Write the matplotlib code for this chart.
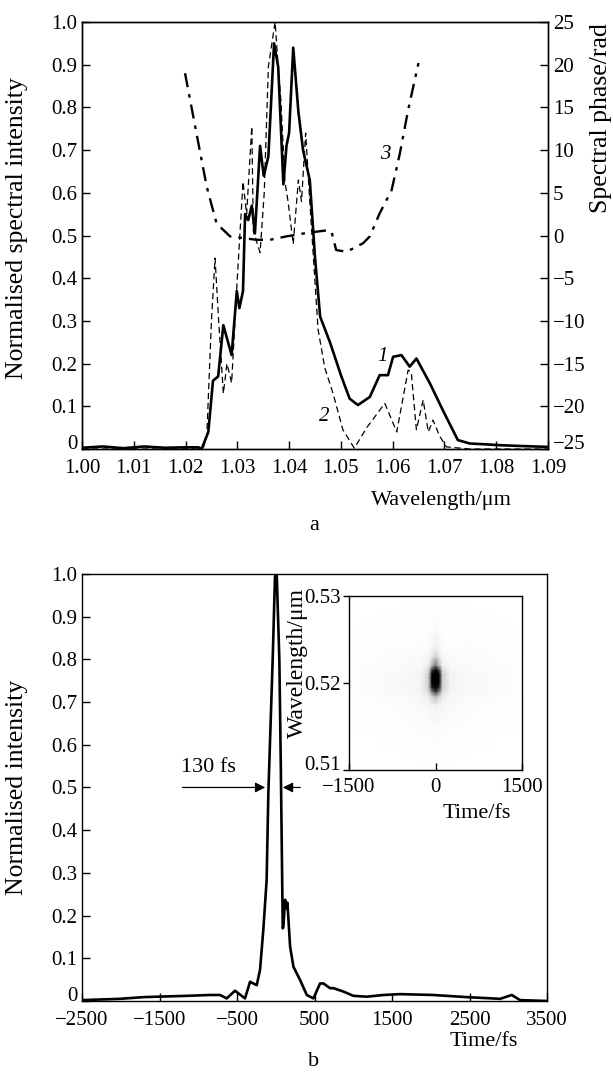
import numpy as np
import matplotlib
matplotlib.use("Agg")
import matplotlib.pyplot as plt

plt.rcParams["font.family"] = ["Liberation Serif", "DejaVu Serif"]
plt.rcParams["font.size"] = 15

# ---- panel a: spectra ----
lam1 = [1.000, 1.004, 1.008, 1.012, 1.016, 1.020, 1.0225, 1.0231, 1.0244, 1.0253, 1.0263,
        1.0273, 1.0289, 1.0299, 1.0304, 1.0311, 1.0315, 1.0321, 1.0328, 1.0334, 1.0344,
        1.0351, 1.036, 1.0371, 1.0379, 1.0389, 1.0395, 1.040, 1.0408, 1.0418, 1.0427,
        1.044, 1.045, 1.046, 1.0479, 1.0501, 1.0517, 1.0533, 1.0556, 1.0575, 1.0591,
        1.0601, 1.0617, 1.0633, 1.0646, 1.0672, 1.0697, 1.0726, 1.0749, 1.0780, 1.0807,
        1.0850, 1.090]
int1 = [0.003, 0.006, 0.002, 0.006, 0.003, 0.004, 0.004, 0.00, 0.04, 0.16, 0.17,
        0.29, 0.22, 0.37, 0.33, 0.37, 0.55, 0.536, 0.57, 0.505, 0.71,
        0.64, 0.685, 0.95, 0.895, 0.62, 0.71, 0.74, 0.94, 0.79, 0.70,
        0.63, 0.45, 0.31, 0.25, 0.17, 0.118, 0.103, 0.122, 0.173, 0.173,
        0.216, 0.22, 0.193, 0.212, 0.154, 0.091, 0.021, 0.013, 0.011, 0.009,
        0.007, 0.005]

lam2 = [1.000, 1.010, 1.020, 1.0235, 1.0241, 1.0250, 1.0257, 1.0264, 1.0273, 1.0280,
        1.0289, 1.0300, 1.0311, 1.0318, 1.0328, 1.0331, 1.0344, 1.0352, 1.0360, 1.0373,
        1.0379, 1.0384, 1.0392, 1.0398, 1.0408, 1.0418, 1.0424, 1.0432, 1.0440, 1.0456,
        1.0469, 1.0485, 1.0504, 1.0526, 1.0550, 1.0585, 1.0608, 1.0630, 1.0636, 1.0646,
        1.0659, 1.0669, 1.0678, 1.0691, 1.0704, 1.0750, 1.090]
int2 = [0.0, 0.0, 0.0, 0.005, 0.03, 0.30, 0.447, 0.30, 0.13, 0.20,
        0.155, 0.40, 0.626, 0.55, 0.755, 0.51, 0.46, 0.60, 0.895, 1.0,
        0.895, 0.82, 0.626, 0.58, 0.48, 0.63, 0.58, 0.74, 0.58, 0.28,
        0.19, 0.13, 0.045, 0.002, 0.05, 0.107, 0.04, 0.185, 0.18, 0.045,
        0.115, 0.04, 0.068, 0.03, 0.005, 0.0, 0.0]

lam3 = [1.0199, 1.0221, 1.0241, 1.0260, 1.0286, 1.0311, 1.0337, 1.0363, 1.0395, 1.0434,
        1.0472, 1.0482, 1.0491, 1.0511, 1.0524, 1.0543, 1.0556, 1.0575, 1.0598, 1.0614,
        1.0630, 1.0650]
phase3 = [19.0, 12.0, 5.7, 1.4, -0.1, -0.3, -0.5, -0.5, -0.1, 0.3,
          0.6, 0.45, -1.7, -1.9, -1.5, -0.9, -0.1, 2.6, 5.3, 9.6,
          14.7, 20.2]

# ---- panel b: temporal profile ----
t_fs = [-2500, -2010, -1709, -1149, -848, -719, -633, -526, -397, -332, -246, -203,
        -161, -118, -96, -40, -10, 12, 46, 64, 90, 98, 120, 142, 150, 185, 228, 314,
        400, 486, 571, 615, 700, 744, 873, 1002, 1174, 1389, 1603, 2033, 2463, 2894,
        3045, 3152, 3500]
i_t = [0.002, 0.005, 0.009, 0.012, 0.014, 0.014, 0.006, 0.024, 0.006, 0.045, 0.037, 0.073,
       0.166, 0.283, 0.486, 0.80, 0.994, 1.0, 0.80, 0.564, 0.17, 0.174, 0.237, 0.217, 0.23,
       0.127, 0.08, 0.049, 0.014, 0.006, 0.041, 0.041, 0.03, 0.03, 0.022, 0.012, 0.01, 0.014,
       0.016, 0.014, 0.009, 0.005, 0.014, 0.002, 0.0]

# inset: FROG-like trace, darkness on a coarse grid
ins_t = [-1500, -600, -250, -120, -60, 0, 60, 120, 250, 600, 1500]
ins_lam = [0.510, 0.515, 0.5175, 0.5185, 0.519, 0.5195, 0.520, 0.5205, 0.521, 0.5215,
           0.522, 0.523, 0.524, 0.526, 0.530]
ins_val = [
    [0, 0, 0, 0, 0, 0, 0, 0, 0, 0, 0],
    [0, 0.01, 0.02, 0.02, 0.03, 0.03, 0.03, 0.02, 0.02, 0.01, 0],
    [0, 0.02, 0.04, 0.06, 0.08, 0.10, 0.08, 0.06, 0.04, 0.02, 0],
    [0, 0.03, 0.06, 0.12, 0.25, 0.35, 0.25, 0.12, 0.06, 0.03, 0],
    [0.01, 0.04, 0.08, 0.20, 0.50, 0.70, 0.50, 0.20, 0.08, 0.04, 0.01],
    [0.01, 0.04, 0.08, 0.25, 0.75, 0.95, 0.75, 0.25, 0.08, 0.04, 0.01],
    [0.01, 0.04, 0.08, 0.25, 0.85, 1.00, 0.85, 0.25, 0.08, 0.04, 0.01],
    [0.01, 0.04, 0.08, 0.25, 0.85, 1.00, 0.85, 0.25, 0.08, 0.04, 0.01],
    [0.01, 0.04, 0.08, 0.25, 0.85, 1.00, 0.85, 0.25, 0.08, 0.04, 0.01],
    [0.01, 0.03, 0.06, 0.20, 0.70, 0.95, 0.70, 0.20, 0.06, 0.03, 0.01],
    [0.01, 0.03, 0.05, 0.12, 0.35, 0.55, 0.35, 0.12, 0.05, 0.03, 0.01],
    [0, 0.02, 0.03, 0.06, 0.15, 0.25, 0.15, 0.06, 0.03, 0.02, 0],
    [0, 0.02, 0.02, 0.03, 0.07, 0.12, 0.07, 0.03, 0.02, 0.02, 0],
    [0, 0.01, 0.01, 0.01, 0.02, 0.04, 0.02, 0.01, 0.01, 0.01, 0],
    [0, 0, 0, 0, 0, 0, 0, 0, 0, 0, 0],
]

W, H = 613, 1074
fig = plt.figure(figsize=(W / 100, H / 100), dpi=100)


def fx(px):
    return px / W


def fy(py):
    return 1 - py / H


def fmt_int(v):
    return "0" if abs(v) < 1e-9 else f"{v:.1f}"


def style(ax):
    for s in ax.spines.values():
        s.set_linewidth(1.0)
    ax.tick_params(direction="in", length=6, width=1.0, labelsize=15)


# ---------- a ----------
ax = fig.add_axes([0.1338, 0.5819, 0.760, 0.3976])
ax.plot(lam1, int1, color="black", lw=1.9)
ax.plot(lam2, int2, color="black", lw=0.9, ls=(0, (5, 3)))
ax.set_xlim(1.0, 1.09)
ax.set_ylim(0, 1.0)
ax.set_xticks(np.arange(1.0, 1.0901, 0.01))
ax.set_xticklabels([f"{v:.2f}" for v in np.arange(1.0, 1.0901, 0.01)])
ax.set_yticks(np.arange(0, 1.01, 0.1))
ax.set_yticklabels([fmt_int(v) for v in np.arange(0, 1.01, 0.1)])
style(ax)
ax.tick_params(axis="x", pad=7)
ax.text(1.0571, 0.205, "1", style="italic", fontsize=15)
ax.text(1.0457, 0.065, "2", style="italic", fontsize=15)
ax.text(1.0575, 0.68, "3", style="italic", fontsize=15)

ax2 = ax.twinx()
ax2.plot(lam3, phase3, color="black", lw=1.7, ls=(0, (6, 3, 1.5, 3)))
ax2.set_ylim(-25, 25)
ax2.set_yticks(np.arange(-25, 26, 5))
ax2.set_yticklabels([f"{v}".replace("-", "−") for v in range(-25, 26, 5)])
style(ax2)

fig.text(fx(17), fy(228), "Normalised spectral intensity", rotation=90,
         ha="center", va="center", fontsize=18.5)
fig.text(fx(601), fy(118), "Spectral phase/rad", rotation=90,
         ha="center", va="center", fontsize=18.5)
fig.text(fx(441), fy(500), "Wavelength/μm", ha="center", va="center", fontsize=16)
fig.text(fx(314), fy(525), "a", ha="center", va="center", fontsize=16)

# ---------- b ----------
bx = fig.add_axes([0.1338, 0.068, 0.7586, 0.3976])
bx.plot(t_fs, i_t, color="black", lw=1.9)
bx.set_xlim(-2500, 3500)
bx.set_ylim(0, 1.0)
bx.set_xticks(np.arange(-2500, 3501, 1000))
bx.set_xticklabels([f"{v}".replace("-", "−") for v in range(-2500, 3501, 1000)])
bx.set_yticks(np.arange(0, 1.01, 0.1))
bx.set_yticklabels([fmt_int(v) for v in np.arange(0, 1.01, 0.1)])
style(bx)
bx.tick_params(axis="x", pad=7)
bx.annotate("", xy=(-100, 0.5), xytext=(-1240, 0.5),
            arrowprops=dict(arrowstyle="-|>", color="black", lw=0.9, mutation_scale=15))
bx.annotate("", xy=(55, 0.5), xytext=(352, 0.5),
            arrowprops=dict(arrowstyle="-|>", color="black", lw=0.9, mutation_scale=15))
bx.text(-870, 0.525, "130 fs", ha="center", va="bottom", fontsize=16)

fig.text(fx(17), fy(787), "Normalised intensity", rotation=90,
         ha="center", va="center", fontsize=18.5)
fig.text(fx(484), fy(1042), "Time/fs", ha="center", va="center", fontsize=16)
fig.text(fx(314), fy(1062), "b", ha="center", va="center", fontsize=16)

# inset
ix = fig.add_axes([fx(349), fy(770), fx(522) - fx(349), fy(596) - fy(770)])
ix.pcolormesh(ins_t, ins_lam, np.array(ins_val), cmap="Greys", vmin=0, vmax=0.85,
              shading="gouraud")
ix.set_xlim(-1500, 1500)
ix.set_ylim(0.51, 0.53)
ix.set_xticks([-1500, 0, 1500])
ix.set_xticklabels(["−1500", "0", "1500"])
ix.set_yticks([0.51, 0.52, 0.53])
ix.set_yticklabels(["0.51", "0.52", "0.53"])
style(ix)
ix.tick_params(axis="y", direction="out", length=4, pad=2)
ix.tick_params(axis="x", length=5, pad=6)
fig.text(fx(477), fy(813), "Time/fs", ha="center", va="center", fontsize=16)
fig.text(fx(297), fy(663), "Wavelength/μm", rotation=90,
         ha="center", va="center", fontsize=17)

# lowest y labels sit on the x axis line, as in the original
for a in (ax.yaxis, ax2.yaxis, bx.yaxis, ix.yaxis):
    a.get_ticklabels()[0].set_va("baseline")

fig.savefig("out.png", dpi=100)
